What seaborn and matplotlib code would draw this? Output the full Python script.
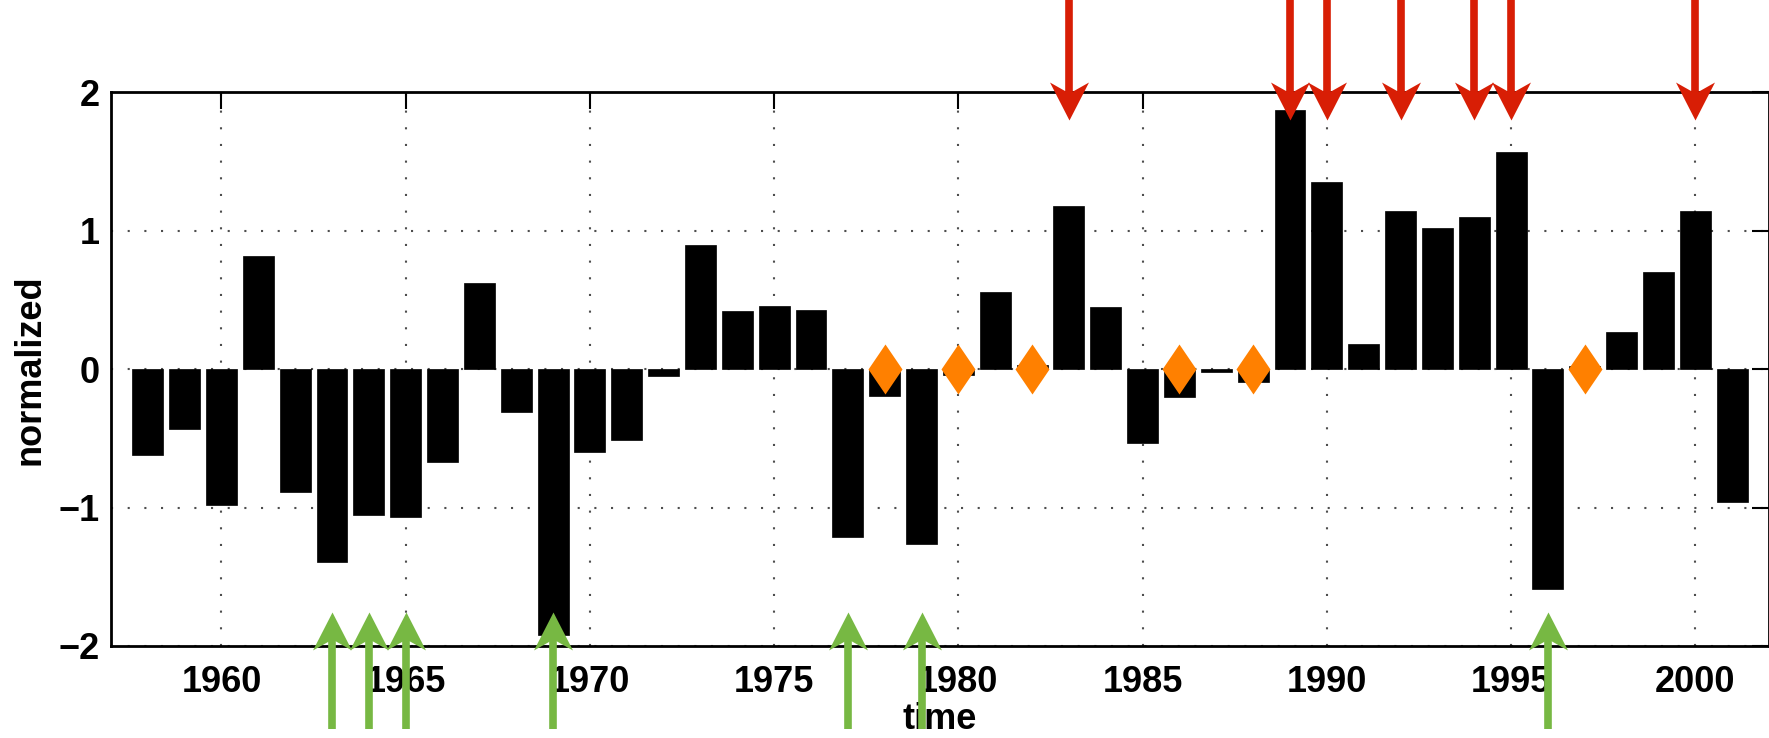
import numpy as np
import pandas as pd
import matplotlib
matplotlib.use('Agg')
import matplotlib.pyplot as plt
import seaborn as sns

# yearly normalized index
years = list(range(1958, 2002))
values = [-0.62, -0.43, -0.98, 0.82, -0.89, -1.39, -1.05, -1.07, -0.67, 0.62,
          -0.31, -1.92, -0.60, -0.51, -0.05, 0.90, 0.42, 0.46, 0.43, -1.21,
          -0.19, -1.26, -0.04, 0.56, 0.03, 1.18, 0.45, -0.53, -0.20, -0.02,
          -0.09, 1.87, 1.35, 0.18, 1.14, 1.02, 1.10, 1.57, -1.59, 0.02,
          0.27, 0.70, 1.14, -0.96]

# marked years
diamond_years = [1978, 1980, 1982, 1986, 1988, 1997]
red_years = [1983, 1989, 1990, 1992, 1994, 1995, 2000]
green_years = [1963, 1964, 1965, 1969, 1977, 1979, 1996]

xticks = [1960, 1965, 1970, 1975, 1980, 1985, 1990, 1995, 2000]
yticks = [-2, -1, 0, 1, 2]

RED = '#D81E05'
GREEN = '#77B843'
ORANGE = '#FF8000'
FS = 26

sns.set_style('white')
plt.rcParams['font.family'] = ['Liberation Sans', 'DejaVu Sans']
plt.rcParams['font.weight'] = 'bold'
plt.rcParams['axes.labelweight'] = 'bold'
for key in ['text.color', 'axes.labelcolor', 'xtick.color', 'ytick.color']:
    plt.rcParams[key] = 'black'

df = pd.DataFrame({'year': years, 'value': values})

fig = plt.figure(figsize=(17.69, 7.38), dpi=100)
ax = fig.add_axes([0.0627, 0.1247, 0.9373, 0.75])

sns.barplot(data=df, x='year', y='value', native_scale=True, width=0.84,
            color='black', saturation=1, edgecolor='black', linewidth=0.5,
            errorbar=None, ax=ax, zorder=2)

# matlab-like diamond, about 34 px wide x 50 px tall
diamond = [(0, 25), (17, 0), (0, -25), (-17, 0), (0, 25)]
sns.scatterplot(x=diamond_years, y=[0] * len(diamond_years), marker=diamond, s=36 ** 2,
                color=ORANGE, linewidth=0, ax=ax, zorder=4)

# arrows outside the axes
down_head = [(0, 0), (19.5, 38), (0, 27), (-19.5, 38), (0, 0)]
up_head = [(x, -y) for x, y in down_head]

ax.vlines(red_years, 1.95, 2.75, color=RED, lw=5.5, clip_on=False, zorder=5)
ax.plot(red_years, [1.80] * len(red_years), linestyle='none', marker=down_head,
        markersize=54.7, markerfacecolor=RED, markeredgewidth=0, clip_on=False, zorder=6)

ax.vlines(green_years, -2.6, -1.9, color=GREEN, lw=5.5, clip_on=False, zorder=5)
ax.plot(green_years, [-1.752] * len(green_years), linestyle='none', marker=up_head,
        markersize=54.7, markerfacecolor=GREEN, markeredgewidth=0, clip_on=False, zorder=6)

ax.set_xlim(1957, 2002)
ax.set_ylim(-2, 2)
ax.set_xticks(xticks)
ax.set_xticklabels([str(t) for t in xticks])
ax.set_yticks(yticks)
ax.set_xlabel('time', fontsize=FS, labelpad=1)
ax.set_ylabel('normalized', fontsize=FS, labelpad=8)

ax.set_axisbelow(True)
ax.grid(True, linestyle=(0, (1, 7)), lw=1.5, color='0.3')
ax.tick_params(direction='in', length=12, width=1.5, top=True, right=True,
               labelsize=FS, color='black')
ax.tick_params(axis='x', pad=14)
ax.tick_params(axis='y', pad=8)
for s in ax.spines.values():
    s.set_visible(True)
    s.set_linewidth(2)
    s.set_color('black')

fig.savefig('out.png', dpi=100)
